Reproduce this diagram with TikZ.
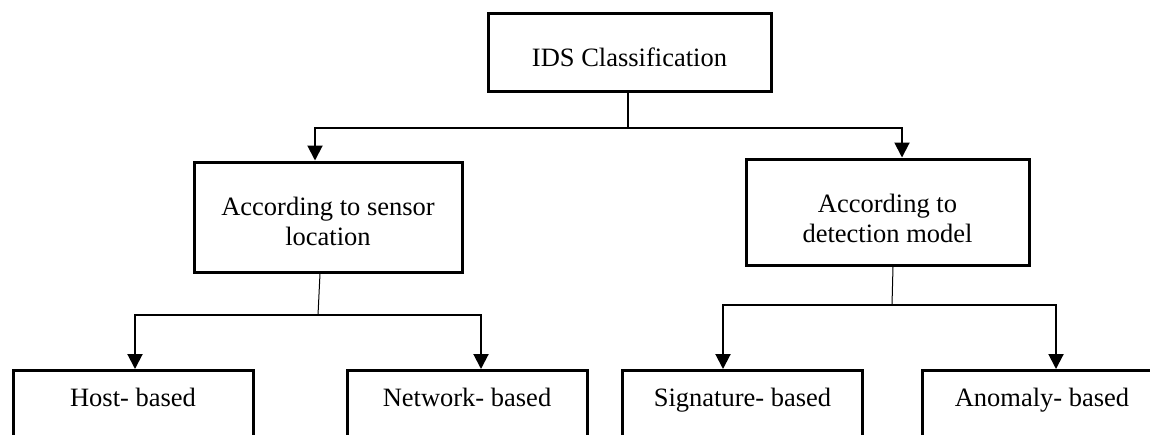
\documentclass[tikz,border=0pt]{standalone}
\usepackage{fontspec}
\setmainfont{Liberation Serif}
\usetikzlibrary{arrows.meta}
\begin{document}
\begin{tikzpicture}[x=0.5pt,y=-0.5pt,
  txt/.style={align=center, inner sep=0pt, font=\fontsize{13.25}{15}\selectfont},
  box/.style={draw=black, line width=1.5pt, rectangle, inner sep=0pt, txt},
  leaf/.style={box, anchor=north, minimum width=120pt, text height=12pt, text depth=40pt, inner ysep=6pt},
  conn/.style={draw=black, line width=1pt},
  thin/.style={draw=black, line width=0.5pt},
  arr/.style={conn, -{Triangle[width=7.5pt,length=7.5pt]}}]
\useasboundingbox (0,0) rectangle (1150,434);
\clip (0,0) rectangle (1150,434);
\fill[white] (0,0) rectangle (1150,434);

\node[box, minimum width=141.5pt, minimum height=39pt,
  label={[txt, yshift=-2.5pt]center:IDS Classification}] (top) at (629.5,52) {};
\node[box, minimum width=134pt, minimum height=55pt,
  label={[txt, yshift=-2pt]center:According to sensor\\location}] (lm) at (328,217) {};
\node[box, minimum width=141.5pt, minimum height=53pt,
  label={[txt, yshift=-3pt]center:According to\\detection model}] (rm) at (887.5,212) {};

\node[leaf] (host) at (133,369) {Host- based};
\node[leaf] (net) at (467,369) {Network- based};
\node[leaf] (sig) at (742.5,369) {Signature- based};
\node[leaf] (ano) at (1042,369) {Anomaly- based};

\coordinate (j0) at (628,128);
\coordinate (j1) at (318,315);
\coordinate (j2) at (892,305);

\draw[conn] ([xshift=-0.75pt]top.south) -- (j0);
\draw[arr] (j0) -| ([xshift=-6.5pt]lm.north);
\draw[arr] (j0) -| ([xshift=7.25pt]rm.north);

\draw[thin] ([xshift=-4pt]lm.south) -- (j1);
\draw[arr] (j1) -| ([xshift=1pt]host.north);
\draw[arr] (j1) -| ([xshift=7pt]net.north);

\draw[thin] ([xshift=2.75pt]rm.south) -- (j2);
\draw[arr] (j2) -| ([xshift=-9.75pt]sig.north);
\draw[arr] (j2) -| ([xshift=7pt]ano.north);
\end{tikzpicture}
\end{document}
